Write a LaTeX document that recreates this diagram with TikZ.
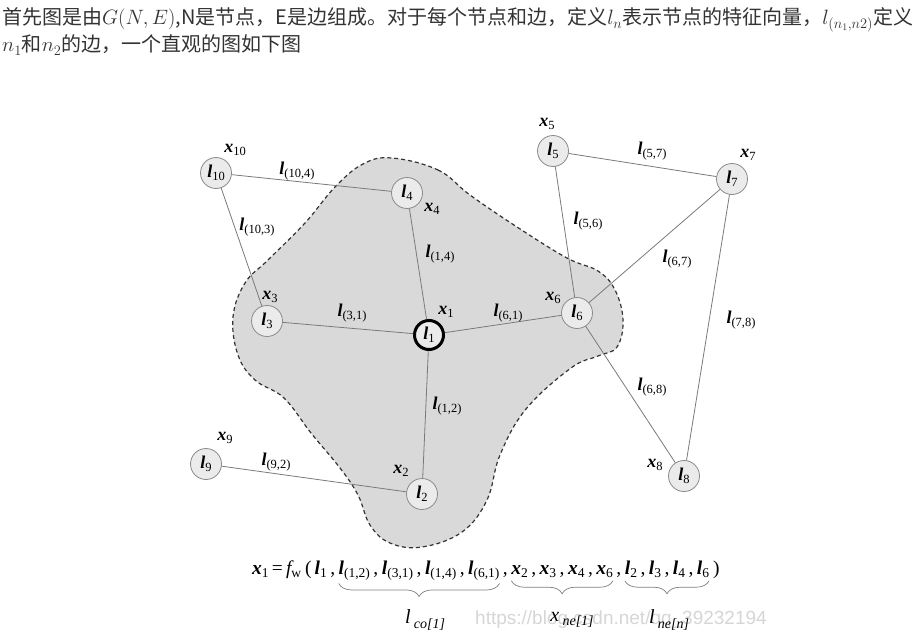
\documentclass[tikz,border=0pt]{standalone}
\usepackage{fontspec}
\setmainfont{Liberation Serif}
\newfontfamily\cjk{Noto Sans CJK SC}
\newfontfamily\wmfont{Liberation Sans}
\usetikzlibrary{decorations.pathreplacing}
\definecolor{blobgray}{HTML}{D9D9D9}
\definecolor{nodefill}{HTML}{EBEBEB}
\definecolor{nodeborder}{HTML}{8A8A8A}
\definecolor{edgegray}{HTML}{7A7A7A}
\definecolor{txtgray}{HTML}{333333}
\newcommand\Lb{{\bfseries\itshape l}}
\newcommand\Xb{{\bfseries\itshape x}}
\newcommand\sbs[1]{\raisebox{-0.4ex}{\fontsize{12.5}{12.5}\selectfont #1}}
\newcommand\fsb[1]{\raisebox{-0.4ex}{\fontsize{13.5}{13.5}\selectfont #1}}
\newcommand\cm{\kern3.5pt,\kern3.5pt}
\begin{document}
\begin{tikzpicture}[x=1pt,y=-1pt,
  gnode/.style={circle, draw=nodeborder, fill=nodefill, line width=0.8pt, minimum size=31pt, inner sep=0pt, font=\fontsize{18}{18}\selectfont},
  mainnode/.style={gnode, draw=black, line width=3pt, minimum size=29pt},
  edge/.style={draw=edgegray, line width=0.8pt},
  lab/.style={inner sep=0pt, font=\fontsize{18}{18}\selectfont},
  fm/.style={inner sep=0pt, outer sep=0pt, anchor=base west, font=\fontsize{19.5}{19.5}\selectfont},
  brc/.style={draw=gray, line width=0.7pt, decorate, decoration={brace, mirror, amplitude=13pt}},
  blab/.style={inner sep=0pt, font=\fontsize{20}{20}\selectfont},
  toptext/.style={inner sep=0pt, anchor=base west, text=txtgray, font=\fontsize{20}{20}\selectfont}]
\useasboundingbox (0,0) rectangle (915,634);
\fill[white] (0,0) rectangle (915,634);

% heading text
\node[toptext] (t1) at (2,25) {{\cjk 首先图是由}$G(N,E)${\cjk ,N是节点，E是边组成。对于每个节点和边，定义}$l_n${\cjk 表示节点的特征向量，}$l_{(n_1,n2)}${\cjk 定义}};
\node[toptext] (t2) at (2,52) {$n_1${\cjk 和}$n_2${\cjk 的边，一个直观的图如下图}};

% blob
\filldraw[fill=blobgray, draw=black!80, line width=1.2pt, dash pattern=on 4pt off 3pt]
  plot[smooth cycle, tension=0.65] coordinates {
  (392,158) (438,170) (470,195) (517,227) (567,258) (598,271) (615,290) (623,320)
  (617,347) (598,356) (571,368) (526,409) (500,455) (487,500) (462,532) (422,547)
  (390,543) (370,525) (358,495) (340,468) (311,433) (284,398) (255,380) (238,355)
  (233,317) (245,283) (268,260) (305,223) (335,187) (363,164)};

% nodes
\node[gnode] (n10) at (216,173) {\Lb\sbs{10}};
\node[gnode] (n4) at (407,193) {\Lb\sbs{4}};
\node[gnode] (n3) at (267,321) {\Lb\sbs{3}};
\node[mainnode] (n1) at (429,335) {\Lb\sbs{1}};
\node[gnode] (n6) at (577,313) {\Lb\sbs{6}};
\node[gnode] (n5) at (553,151) {\Lb\sbs{5}};
\node[gnode] (n7) at (732,179) {\Lb\sbs{7}};
\node[gnode] (n2) at (422,494) {\Lb\sbs{2}};
\node[gnode] (n9) at (206,464) {\Lb\sbs{9}};
\node[gnode] (n8) at (684,476) {\Lb\sbs{8}};

% edges
\draw[edge] (n10) -- (n4);
\draw[edge] (n10) -- (n3);
\draw[edge] (n4) -- (n1);
\draw[edge] (n3) -- (n1);
\draw[edge] (n1) -- (n6);
\draw[edge] (n1) -- (n2);
\draw[edge] (n9) -- (n2);
\draw[edge] (n5) -- (n6);
\draw[edge] (n5) -- (n7);
\draw[edge] (n7) -- (n6);
\draw[edge] (n7) -- (n8);
\draw[edge] (n6) -- (n8);

% node state labels
\node[lab] (x10) at (235,150) {\Xb\sbs{10}};
\node[lab] (x4) at (432,209) {\Xb\sbs{4}};
\node[lab] (x3) at (270,297) {\Xb\sbs{3}};
\node[lab] (x1) at (446,312) {\Xb\sbs{1}};
\node[lab] (x6) at (553,298) {\Xb\sbs{6}};
\node[lab] (x5) at (547,124) {\Xb\sbs{5}};
\node[lab] (x7) at (748,155) {\Xb\sbs{7}};
\node[lab] (x8) at (655,465) {\Xb\sbs{8}};
\node[lab] (x9) at (225,438) {\Xb\sbs{9}};
\node[lab] (x2) at (401,471) {\Xb\sbs{2}};

% edge labels
\node[lab] (e104) at (297,171) {\Lb\sbs{(10,4)}};
\node[lab] (e103) at (257,227) {\Lb\sbs{(10,3)}};
\node[lab] (e14) at (440,254) {\Lb\sbs{(1,4)}};
\node[lab] (e31) at (352,313) {\Lb\sbs{(3,1)}};
\node[lab] (e61) at (508,313) {\Lb\sbs{(6,1)}};
\node[lab] (e56) at (588,221) {\Lb\sbs{(5,6)}};
\node[lab] (e57) at (652,151) {\Lb\sbs{(5,7)}};
\node[lab] (e67) at (677,259) {\Lb\sbs{(6,7)}};
\node[lab] (e78) at (741,320) {\Lb\sbs{(7,8)}};
\node[lab] (e68) at (652,387) {\Lb\sbs{(6,8)}};
\node[lab] (e12) at (447,406) {\Lb\sbs{(1,2)}};
\node[lab] (e92) at (276,462) {\Lb\sbs{(9,2)}};

% watermark
\node[inner sep=0pt, anchor=base west, text=black!16, font=\wmfont\fontsize{19}{19}\selectfont] (wm) at (475,624) {https://blog.csdn.net/qq\_39232194};

% formula
\node[fm] (fA) at (252,574) {\Xb\fsb{1}\,=\,{\itshape f}\fsb{w}\kern4pt(\kern3pt\Lb\fsb{1}\cm};
\node[fm] (fB) at (fA.base east) {\Lb\fsb{(1,2)}\cm\Lb\fsb{(3,1)}\cm\Lb\fsb{(1,4)}\cm\Lb\fsb{(6,1)}};
\node[fm] (fC0) at (fB.base east) {\cm};
\node[fm] (fC) at (fC0.base east) {\Xb\fsb{2}\cm\Xb\fsb{3}\cm\Xb\fsb{4}\cm\Xb\fsb{6}};
\node[fm] (fD0) at (fC.base east) {\cm};
\node[fm] (fD) at (fD0.base east) {\Lb\fsb{2}\cm\Lb\fsb{3}\cm\Lb\fsb{4}\cm\Lb\fsb{6}};
\node[fm] (fE) at (fD.base east) {\kern4pt)};

\draw[brc] ([yshift=-3pt]fB.south west) -- ([yshift=-3pt]fB.south east);
\draw[brc] ([yshift=-3pt]fC.south west) -- ([yshift=-3pt]fC.south east);
\draw[brc] ([yshift=-3pt]fD.south west) -- ([yshift=-3pt]fD.south east);

\node[blab] (lco) at (425,620) {{\itshape l}\,\raisebox{-0.5ex}{\fontsize{14}{14}\selectfont\itshape co[1]}};
\node[blab] (xne) at (572,620) {{\itshape x}\,\raisebox{-0.5ex}{\fontsize{14}{14}\selectfont\itshape ne[1]}};
\node[blab] (lne) at (669,620) {{\itshape l}\,\raisebox{-0.5ex}{\fontsize{14}{14}\selectfont\itshape ne[n]}};
\end{tikzpicture}
\end{document}
